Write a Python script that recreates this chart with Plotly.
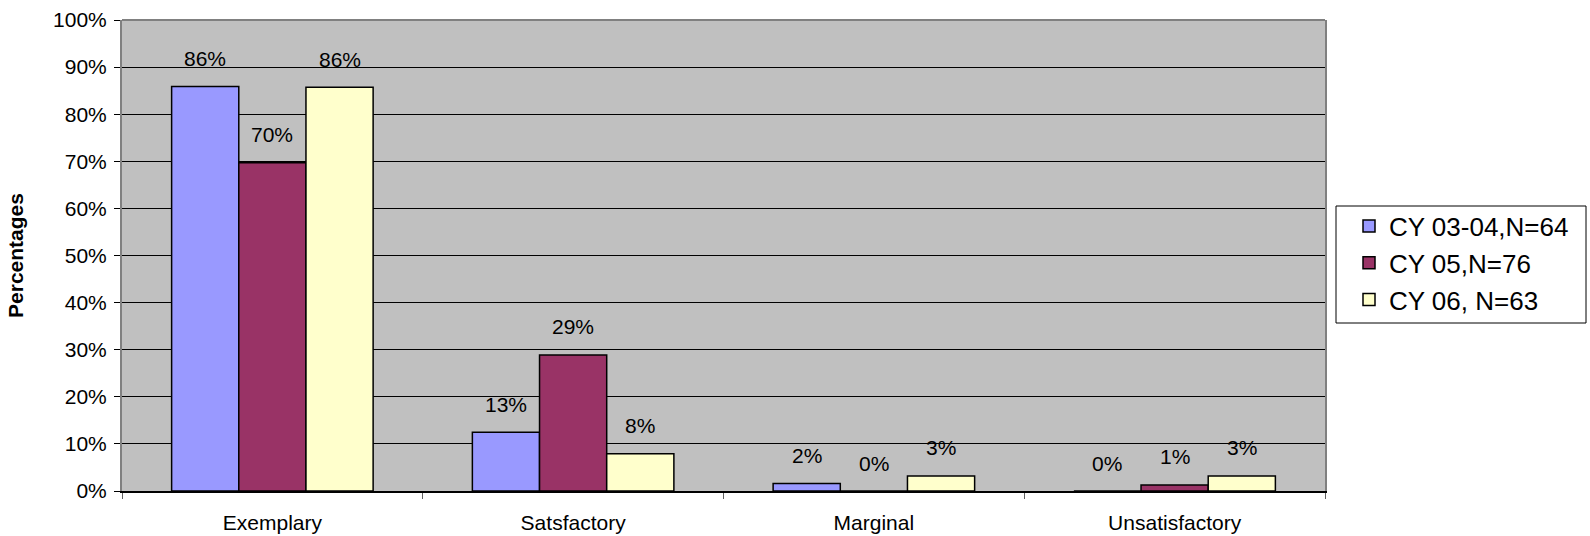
import math
import plotly.graph_objects as go

categories = ["Exemplary", "Satsfactory", "Marginal", "Unsatisfactory"]
series_names = ["CY 03-04,N=64", "CY 05,N=76", "CY 06, N=63"]
cy0304 = [85.9, 12.5, 1.6, 0.0]
cy05 = [69.7, 28.9, 0.0, 1.3]
cy06 = [85.7, 7.9, 3.2, 3.2]
y_ticks = [0, 10, 20, 30, 40, 50, 60, 70, 80, 90, 100]

series_values = [cy0304, cy05, cy06]
colors = ["#9999FF", "#993366", "#FFFFCC"]

W, H = 1590, 536
ML, MR, MT, MB = 122, 265, 20, 45
BARGAP = 0.33
FONT = "Liberation Sans, Arial, sans-serif"
FS = 21

fig = go.Figure()
for i, (name, vals) in enumerate(zip(series_names, series_values)):
    fig.add_trace(go.Bar(
        x=categories, y=vals, name=name,
        marker=dict(color=colors[i], line=dict(color="black", width=1.5)),
        legendgroup=f"g{i}",
    ))

plot_w = W - ML - MR
plot_h = H - MT - MB
cat_w = plot_w / len(categories)
bar_w = cat_w * (1 - BARGAP) / len(series_values)
annotations = []
for i, vals in enumerate(series_values):
    for c, v in zip(categories, vals):
        annotations.append(dict(
            x=c, y=v, xref="x", yref="y",
            text=f"{math.floor(v + 0.5)}%",
            showarrow=False, yanchor="middle",
            xshift=(i - 1) * bar_w, yshift=28,
            font=dict(family=FONT, size=FS, color="black"),
        ))

def px_x(p):
    return (p - ML) / plot_w

def px_y(p):
    return (H - MB - p) / plot_h

shapes = [
    dict(type="line", xref="paper", yref="paper", x0=0, x1=1, y0=1, y1=1,
         line=dict(color="#808080", width=2), layer="above"),
    # legend frame
    dict(type="rect", xref="paper", yref="paper",
         x0=px_x(1336), x1=px_x(1586), y0=px_y(323), y1=px_y(206),
         fillcolor="white", line=dict(color="black", width=1), layer="above"),
]

fig.update_layout(
    width=W, height=H,
    margin=dict(l=ML, r=MR, t=MT, b=MB, autoexpand=False),
    paper_bgcolor="white", plot_bgcolor="#C0C0C0",
    barmode="group", bargap=BARGAP, bargroupgap=0,
    font=dict(family=FONT, size=FS, color="black"),
    annotations=annotations,
    shapes=shapes,
    legend=dict(
        x=px_x(1349), y=px_y(202.5),
        xanchor="left", yanchor="top",
        bgcolor="rgba(0,0,0,0)", borderwidth=0,
        font=dict(family=FONT, size=26, color="black"),
        tracegroupgap=0,
    ),
    showlegend=True,
)
fig.update_yaxes(
    range=[0, 100], tickvals=y_ticks, ticktext=[f"{t}%" for t in y_ticks],
    showgrid=True, gridcolor="black", gridwidth=1,
    showline=True, linecolor="#808080", linewidth=2, mirror=True,
    ticks="outside", ticklen=6, tickcolor="black",
    zeroline=False, ticklabelstandoff=3,
    title=dict(text="<b>Percentages</b>", standoff=24,
               font=dict(family=FONT, size=FS, color="black")),
    tickfont=dict(family=FONT, size=FS),
)
fig.update_xaxes(
    type="category", tickson="boundaries",
    showline=True, linecolor="black", linewidth=1.5, mirror=False,
    ticks="outside", ticklen=6, tickcolor="#606060",
    tickfont=dict(family=FONT, size=FS),
    ticklabelstandoff=12,
    showgrid=False,
)

fig.write_html("out.html")
